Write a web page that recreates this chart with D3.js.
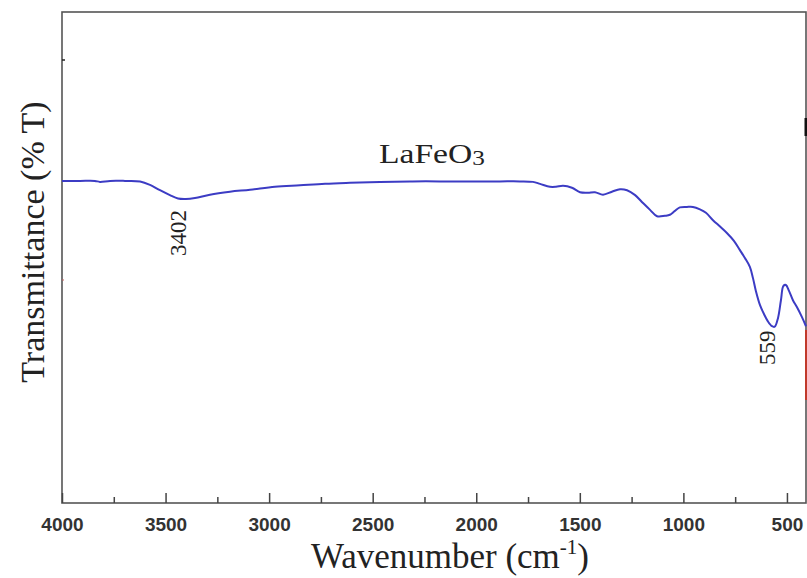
<!DOCTYPE html>
<html>
<head>
<meta charset="utf-8">
<script src="https://cdn.jsdelivr.net/npm/d3@7"></script>
<style>
  html, body { margin: 0; padding: 0; background: #fff; }
  svg { display: block; }
</style>
</head>
<body>
<svg id="chart" width="807" height="578"></svg>
<script>
// FT-IR spectrum of LaFeO3: wavenumber (cm-1) vs transmittance (%T)
const wavenumbers = [
  4000, 3913, 3841, 3817, 3768, 3696, 3623, 3575, 3527, 3479, 3440, 3402, 3358,
  3286, 3189, 3092, 2972, 2851, 2730, 2610, 2465, 2320, 2175, 2030, 1886, 1789,
  1726, 1692, 1644, 1615, 1581, 1538, 1499, 1461, 1427, 1388, 1345, 1306, 1272,
  1233, 1195, 1161, 1127, 1089, 1065, 1041, 1017, 983, 954, 920, 891, 857, 823,
  790, 756, 727, 703, 679, 664, 650, 630, 611, 592, 572, 559, 543, 529, 517, 505,
  490, 471, 452, 428, 408
];
const transmittance = [
  65.6, 65.6, 65.6, 65.4, 65.6, 65.6, 65.5, 64.8, 63.7, 62.7, 62.0, 61.9, 62.1,
  62.8, 63.4, 63.8, 64.4, 64.7, 65.0, 65.2, 65.4, 65.5, 65.5, 65.5, 65.5, 65.5,
  65.4, 65.0, 64.4, 64.4, 64.6, 64.2, 63.3, 63.2, 63.3, 62.8, 63.4, 63.9, 63.7,
  62.7, 61.1, 59.7, 58.4, 58.5, 58.7, 59.5, 60.2, 60.3, 60.3, 59.8, 59.1, 57.6, 56.3,
  55.0, 53.4, 51.5, 49.9, 48.1, 45.8, 43.2, 40.3, 38.5, 37.0, 36.0, 35.9, 37.7, 41.3, 44.2, 44.4,
  43.2, 41.3, 39.9, 37.9, 36.0
];
const majorTicks = [4000, 3500, 3000, 2500, 2000, 1500, 1000, 500];
const minorTicks = [3750, 3250, 2750, 2250, 1750, 1250, 750];
const peakLabels = ["3402", "559"];
const peakPositions = [3402, 559];

const svg = d3.select("#chart");
const plotL = 62, plotR = 806, plotT = 12, plotB = 503;

const x = d3.scaleLinear().domain([4000, 408]).range([plotL, plotR]);
const y = d3.scaleLinear().domain([0, 100]).range([plotB, plotT]);

// frame
svg.append("rect")
  .attr("x", plotL).attr("y", plotT)
  .attr("width", plotR - plotL).attr("height", plotB - plotT)
  .attr("fill", "none").attr("stroke", "#555").attr("stroke-width", 1.6);

// small marks on the frame edges
svg.append("line").attr("x1", plotL).attr("x2", plotL + 3).attr("y1", 60).attr("y2", 60)
  .attr("stroke", "#222").attr("stroke-width", 1.5);
svg.append("line").attr("x1", plotL).attr("x2", plotL + 2).attr("y1", 280).attr("y2", 280)
  .attr("stroke", "#c06060").attr("stroke-width", 1.2);
svg.append("line").attr("x1", 806).attr("x2", 806).attr("y1", 118).attr("y2", 136)
  .attr("stroke", "#111").attr("stroke-width", 3);
svg.append("line").attr("x1", 806).attr("x2", 806).attr("y1", 330).attr("y2", 400)
  .attr("stroke", "#c0392b").attr("stroke-width", 2);

// bottom axis: major ticks with labels, minor ticks without
const axisMajor = d3.axisBottom(x).tickValues(majorTicks).tickSize(-10)
  .tickFormat(d3.format("d")).tickPadding(15);
const gMajor = svg.append("g").attr("transform", `translate(0,${plotB})`).call(axisMajor);
gMajor.select(".domain").remove();
gMajor.selectAll(".tick line").attr("stroke", "#444").attr("stroke-width", 1.5);
gMajor.selectAll(".tick text")
  .attr("font-family", "'Liberation Sans', Arial, sans-serif")
  .attr("font-weight", "bold").attr("font-size", 19).attr("fill", "#333");

const axisMinor = d3.axisBottom(x).tickValues(minorTicks).tickSize(-6).tickFormat("");
const gMinor = svg.append("g").attr("transform", `translate(0,${plotB})`).call(axisMinor);
gMinor.select(".domain").remove();
gMinor.selectAll(".tick line").attr("stroke", "#444").attr("stroke-width", 1.5);

// spectrum
const spectrum = wavenumbers.map((w, i) => ({ w, t: transmittance[i] }));
const line = d3.line().x(d => x(d.w)).y(d => y(d.t)).curve(d3.curveCatmullRom.alpha(0.5));
svg.append("path").datum(spectrum).attr("d", line)
  .attr("fill", "none").attr("stroke", "#3c3cc4").attr("stroke-width", 2);

// axis titles
const serif = "'Liberation Serif', 'Times New Roman', serif";
svg.append("text")
  .attr("transform", "translate(44,242) rotate(-90)")
  .attr("text-anchor", "middle").attr("font-family", serif).attr("font-size", 34)
  .attr("fill", "#222").text("Transmittance (% T)");

const xt = svg.append("text")
  .attr("x", 450).attr("y", 568).attr("text-anchor", "middle")
  .attr("font-family", serif).attr("font-size", 35).attr("fill", "#222");
xt.append("tspan").text("Wavenumber (cm");
xt.append("tspan").attr("font-size", 21).attr("dy", -14).text("-1");
xt.append("tspan").attr("dy", 14).text(")");

// sample name
const sampleName = svg.append("g").attr("transform", "translate(379,163) scale(1.2,1)")
  .append("text").attr("font-family", serif).attr("font-size", 28).attr("fill", "#222");
sampleName.append("tspan").text("LaFeO");
sampleName.append("tspan").attr("font-size", 21).attr("dy", 2).text("3");

// peak annotations
const peakIdx = peakPositions.map(p => wavenumbers.indexOf(p));
const labelOffsets = [34, 21];
peakLabels.forEach((lab, i) => {
  const px = x(peakPositions[i]);
  const py = y(transmittance[peakIdx[i]]) + labelOffsets[i];
  svg.append("text")
    .attr("transform", `translate(${px},${py}) rotate(-90)`)
    .attr("text-anchor", "middle").attr("font-family", serif).attr("font-size", 23)
    .attr("fill", "#222").text(lab);
});
</script>
</body>
</html>
